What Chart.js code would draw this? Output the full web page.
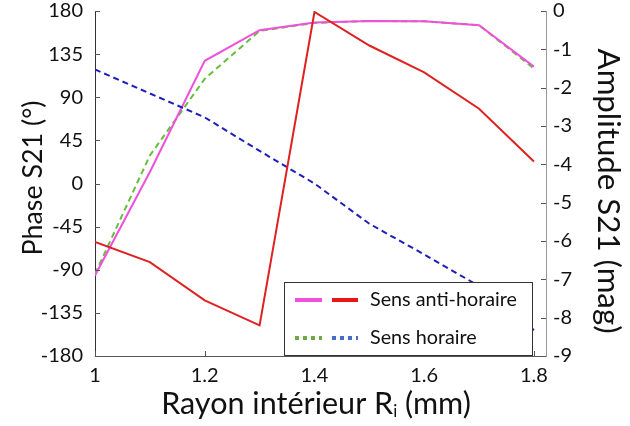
<!DOCTYPE html>
<html>
<head>
<meta charset="utf-8">
<script src="https://cdn.jsdelivr.net/npm/chart.js@4"></script>
<style>
  body { margin: 0; background: #fff; }
  #wrap { width: 630px; height: 426px; }
</style>
</head>
<body>
<div id="wrap"><canvas id="c" width="630" height="426"></canvas></div>
<script>
// rayon interieur (mm)
const rayon = [1, 1.1, 1.2, 1.3, 1.4, 1.5, 1.6, 1.7, 1.8];
// phase S21 (deg), left axis
const phaseAnti = [-61, -82, -122, -148, 179, 144, 116, 78, 23];
const phaseHoraire = [119, 94, 69, 34, 0, -42, -74, -107, -153];
// amplitude S21 (mag), right axis
const ampAnti = [-6.9, -4.2, -1.3, -0.5, -0.3, -0.26, -0.27, -0.37, -1.45];
const ampHoraire = [-6.86, -3.77, -1.77, -0.52, -0.31, -0.26, -0.27, -0.37, -1.5];

const rayonTicks = [1, 1.2, 1.4, 1.6, 1.8];
const phaseTicks = [-180, -135, -90, -45, 0, 45, 90, 135, 180];
const ampTicks = [0, -1, -2, -3, -4, -5, -6, -7, -8, -9];

const FONT = 'Lato, "Open Sans", sans-serif';
const pts = (ys) => rayon.map((x, i) => ({x: x, y: ys[i]}));

const C_MAG = 'rgb(240,80,220)';
const C_RED = 'rgb(222,34,34)';
const C_GRN = 'rgb(100,190,60)';
const C_BLU = 'rgb(30,30,185)';

// font size that makes text about w pixels wide
function fit(ctx, text, w) {
  ctx.font = '20px ' + FONT;
  return 20 * w / ctx.measureText(text).width;
}

// inward tick marks, titles and the paired legend
const decor = {
  id: 'decor',
  afterDatasetsDraw(chart) {
    const ctx = chart.ctx;
    const a = chart.chartArea;
    const sx = chart.scales.x, yl = chart.scales.y, yr = chart.scales.y2;
    ctx.save();
    ctx.strokeStyle = '#555';
    ctx.lineWidth = 1;
    ctx.beginPath();
    yl.ticks.forEach(t => { const y = Math.round(yl.getPixelForValue(t.value)) + 0.5; ctx.moveTo(a.left, y); ctx.lineTo(a.left + 5, y); });
    yr.ticks.forEach(t => { const y = Math.round(yr.getPixelForValue(t.value)) + 0.5; ctx.moveTo(a.right, y); ctx.lineTo(a.right - 5, y); });
    sx.ticks.forEach(t => { const x = Math.round(sx.getPixelForValue(t.value)) + 0.5; ctx.moveTo(x, a.bottom); ctx.lineTo(x, a.bottom - 5); });
    ctx.stroke();

    // legend box
    const lx = 284, ly = 282, lw = 248, lh = 73;
    ctx.fillStyle = '#fff';
    ctx.fillRect(lx, ly, lw, lh);
    ctx.strokeStyle = '#333';
    ctx.strokeRect(lx + 0.5, ly + 0.5, lw, lh);
    ctx.lineWidth = 4;
    const seg = (x1, x2, y, col, dash) => {
      ctx.strokeStyle = col; ctx.setLineDash(dash);
      ctx.beginPath(); ctx.moveTo(x1, y); ctx.lineTo(x2, y); ctx.stroke();
    };
    seg(295, 322, 300, C_MAG, []);
    seg(332, 358, 300, 'rgb(235,20,20)', []);
    seg(295, 322, 338, 'rgb(110,170,70)', [4, 4]);
    seg(332, 358, 338, 'rgb(70,110,200)', [4, 4]);
    ctx.setLineDash([]);
    ctx.fillStyle = '#111';
    const fl = fit(ctx, 'Sens anti-horaire', 147);
    ctx.font = fl + 'px ' + FONT;
    ctx.textBaseline = 'middle';
    ctx.textAlign = 'left';
    ctx.fillText('Sens anti-horaire', 370, 300);
    ctx.fillText('Sens horaire', 370, 338);

    // axis titles
    ctx.textAlign = 'center';
    ctx.font = fit(ctx, 'Phase S21 (°)', 155) + 'px ' + FONT;
    ctx.save();
    ctx.translate(33, 178); ctx.rotate(-Math.PI / 2);
    ctx.fillText('Phase S21 (°)', 0, 0);
    ctx.restore();
    ctx.font = fit(ctx, 'Amplitude S21 (mag)', 285) + 'px ' + FONT;
    ctx.save();
    ctx.translate(608, 191); ctx.rotate(Math.PI / 2);
    ctx.fillText('Amplitude S21 (mag)', 0, 0);
    ctx.restore();

    // x title with subscript i
    const p1 = 'Rayon intérieur R', p2 = ' (mm)';
    const fs = fit(ctx, p1 + 'i' + p2, 313);
    ctx.font = fs + 'px ' + FONT;
    const w1 = ctx.measureText(p1).width, w3 = ctx.measureText(p2).width;
    ctx.font = (fs * 0.55) + 'px ' + FONT;
    const w2 = ctx.measureText('i').width;
    const x0 = 316 - (w1 + w2 + w3) / 2;
    ctx.textAlign = 'left';
    ctx.font = fs + 'px ' + FONT;
    ctx.fillText(p1, x0, 404);
    ctx.font = (fs * 0.55) + 'px ' + FONT;
    ctx.fillText('i', x0 + w1, 412);
    ctx.font = fs + 'px ' + FONT;
    ctx.fillText(p2, x0 + w1 + w2, 404);
    ctx.restore();
  }
};

new Chart(document.getElementById('c'), {
  type: 'line',
  data: {
    datasets: [
      { label: 'Phase anti-horaire', data: pts(phaseAnti), yAxisID: 'y', borderColor: C_RED, borderWidth: 2 },
      { label: 'Phase horaire', data: pts(phaseHoraire), yAxisID: 'y', borderColor: C_BLU, borderWidth: 2, borderDash: [6, 4] },
      { label: 'Amplitude anti-horaire', data: pts(ampAnti), yAxisID: 'y2', borderColor: C_MAG, borderWidth: 2 },
      { label: 'Amplitude horaire', data: pts(ampHoraire), yAxisID: 'y2', borderColor: C_GRN, borderWidth: 2, borderDash: [6, 4] }
    ]
  },
  options: {
    responsive: false,
    animation: false,
    maintainAspectRatio: false,
    layout: { padding: { top: 11, left: 0, right: 0, bottom: 0 } },
    elements: { point: { radius: 0 }, line: { tension: 0, fill: false } },
    plugins: { legend: { display: false }, tooltip: { enabled: false } },
    scales: {
      x: {
        type: 'linear', min: 1, max: 1.822,
        afterBuildTicks: s => { s.ticks = rayonTicks.map(v => ({value: v})); },
        afterFit: s => { s.height = 70; s.paddingLeft = 0; s.paddingRight = 0; },
        grid: { display: false, drawTicks: false },
        border: { display: true, color: '#555', width: 1 },
        ticks: { padding: 8, color: '#111', font: { family: FONT, size: 20 }, callback: v => String(v) }
      },
      y: {
        position: 'left', min: -180, max: 180,
        afterBuildTicks: s => { s.ticks = phaseTicks.map(v => ({value: v})); },
        afterFit: s => { s.width = 95; s.paddingTop = 0; s.paddingBottom = 0; },
        grid: { display: false, drawTicks: false },
        border: { display: true, color: '#333', width: 1 },
        ticks: { padding: 12, color: '#111', font: { family: FONT, size: 20 } }
      },
      y2: {
        position: 'right', min: -9, max: 0,
        afterBuildTicks: s => { s.ticks = ampTicks.map(v => ({value: v})); },
        afterFit: s => { s.width = 84; s.paddingTop = 0; s.paddingBottom = 0; },
        grid: { display: false, drawTicks: false },
        border: { display: true, color: '#999', width: 1 },
        ticks: { padding: 7, color: '#111', font: { family: FONT, size: 20 } }
      }
    }
  },
  plugins: [decor]
});
</script>
</body>
</html>
